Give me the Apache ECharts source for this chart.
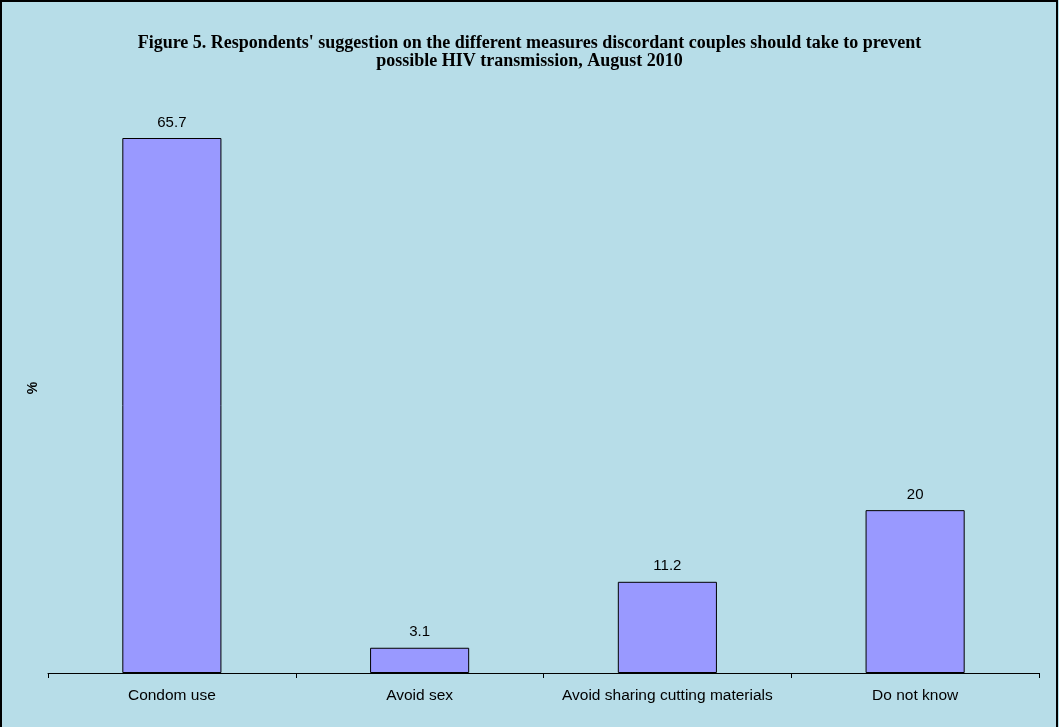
<!DOCTYPE html>
<html>
<head>
<meta charset="utf-8">
<script src="https://cdn.jsdelivr.net/npm/echarts@6/dist/echarts.min.js"></script>
<style>
html,body{margin:0;padding:0;background:#b7dde8;}
#c{width:1059px;height:727px;}
</style>
</head>
<body>
<div id="c"></div>
<script>
const categories = ["Condom use", "Avoid sex", "Avoid sharing cutting materials", "Do not know"];
const values = [65.7, 3.1, 11.2, 20];
const valueLabels = ["65.7", "3.1", "11.2", "20"];
const titleText = "Figure 5. Respondents' suggestion on the different measures discordant couples should take to prevent\npossible HIV transmission, August 2010";

const chart = echarts.init(document.getElementById('c'));
chart.setOption({
  backgroundColor: '#b7dde8',
  animation: false,
  title: {
    text: titleText,
    left: 'center',
    top: 29,
    textStyle: {fontFamily: 'Liberation Serif', fontWeight: 'bold', fontSize: 18, color: '#000', lineHeight: 18}
  },
  graphic: [{
    type: 'rect', shape: {x: 1, y: 1, width: 1056, height: 740},
    style: {fill: 'none', stroke: '#000', lineWidth: 2}, silent: true
  }],
  grid: {left: 48, right: 20, top: 103, bottom: 54},
  xAxis: {
    type: 'category',
    data: categories,
    axisLine: {lineStyle: {color: '#000', width: 1}},
    axisTick: {show: true, length: 5, interval: 0, alignWithLabel: false, lineStyle: {color: '#000'}},
    axisLabel: {interval: 0, color: '#000', fontFamily: 'Liberation Sans', fontSize: 15.5, margin: 15}
  },
  yAxis: {
    type: 'value', min: 0, max: 70,
    name: '%', nameLocation: 'middle', nameGap: 8, nameRotate: 90,
    nameTextStyle: {fontFamily: 'Liberation Sans', fontWeight: 'bold', fontSize: 14, color: '#000'},
    axisLine: {show: false}, axisTick: {show: false}, axisLabel: {show: false}, splitLine: {show: false}
  },
  series: [{
    type: 'bar',
    data: values,
    barWidth: '40%',
    itemStyle: {color: '#9999ff', borderColor: '#000', borderWidth: 1},
    label: {
      show: true, position: 'top', distance: 8,
      formatter: p => valueLabels[p.dataIndex],
      color: '#000', fontFamily: 'Liberation Sans', fontSize: 15
    }
  }]
});
</script>
</body>
</html>
